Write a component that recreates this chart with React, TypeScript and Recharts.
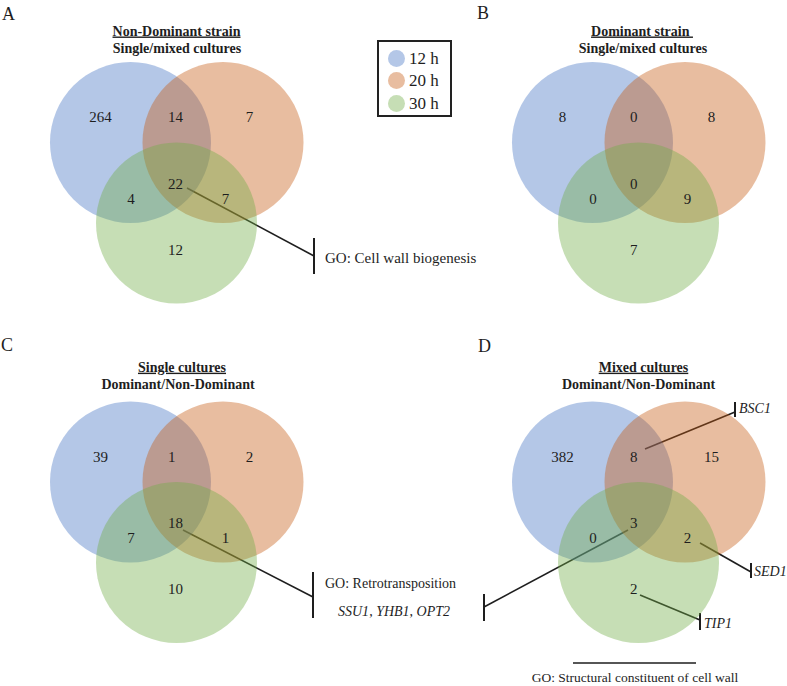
import React from "react";
import { ScatterChart, Scatter, XAxis, YAxis, ReferenceLine, Legend } from "recharts";

const W = 787;
const H = 686;
const SERIF = '"Liberation Serif", "Times New Roman", serif';
const INK = "#1e1e1e";

// time points (the three sets) and their colours
const timePoints = ["12 h", "20 h", "30 h"];
const timeColors = ["#4472C4", "#C55A11", "#70AD47"];

// panel headings
const panelLetters = ["A", "B", "C", "D"];
const panelTitles = ["Non-Dominant strain", "Dominant strain ", "Single cultures", "Mixed cultures"];
const panelSubtitles = [
  "Single/mixed cultures",
  "Single/mixed cultures",
  "Dominant/Non-Dominant",
  "Dominant/Non-Dominant",
];

// gene counts per region: [12 only, 12∩20, 20 only, 12∩30, 12∩20∩30, 20∩30, 30 only]
const nonDominantCounts = [264, 14, 7, 4, 22, 7, 12];
const dominantCounts = [8, 0, 8, 0, 0, 9, 7];
const singleCounts = [39, 1, 2, 7, 18, 1, 10];
const mixedCounts = [382, 8, 15, 0, 3, 2, 2];
const panelCounts = [nonDominantCounts, dominantCounts, singleCounts, mixedCounts];

// annotation texts
const goCellWall = "GO: Cell wall biogenesis";
const goRetro = "GO: Retrotransposition";
const retroGenes = ["SSU1", "YHB1", "OPT2"];
const goStructural = "GO: Structural constituent of cell wall";
const structuralGenes = ["BSC1", "SED1", "TIP1"];

// ---- layout (plot units == px, axes span the whole picture) ----
const R = 80.5;
const panelOrigin = [
  { x: 130.5, y: 142.5 },
  { x: 592.5, y: 142.5 },
  { x: 130.5, y: 482 },
  { x: 592.5, y: 482 },
];
const circleOffset = [
  { dx: 0, dy: 0 },
  { dx: 92.5, dy: 0 },
  { dx: 46, dy: 80.5 },
];
const regionLayout = [
  { dx: -30, dy: -20.5, anchor: "middle" },
  { dx: 37.5, dy: -20.5, anchor: "start" },
  { dx: 119, dy: -20.5, anchor: "middle" },
  { dx: 0.5, dy: 61, anchor: "middle" },
  { dx: 37.5, dy: 46, anchor: "start" },
  { dx: 95, dy: 61, anchor: "middle" },
  { dx: 37.5, dy: 112, anchor: "start" },
];
const headingLayout = [
  { letter: [2, 19.5], title: [176.5, 35.5], sub: [177, 53] },
  { letter: [477, 18.5], title: [642, 35.5], sub: [643, 53] },
  { letter: [1, 350.5], title: [182, 371.7], sub: [178, 389.3] },
  { letter: [478, 352], title: [643.5, 371.7], sub: [638.5, 389.3] },
];

const leaderLines = [
  // A
  { a: [187, 188], b: [314, 256], w: 1.6 },
  { a: [314, 238], b: [314, 274], w: 2 },
  // C
  { a: [183, 530], b: [313, 597], w: 1.6 },
  { a: [313, 572], b: [313, 618], w: 2 },
  // D
  { a: [645, 449], b: [735, 412], w: 1.6 },
  { a: [735, 402], b: [735, 417], w: 2 },
  { a: [700, 543], b: [751, 572], w: 1.6 },
  { a: [751, 563], b: [751, 578], w: 2 },
  { a: [640, 595], b: [700, 620], w: 1.6 },
  { a: [700, 613], b: [700, 630], w: 2 },
  { a: [628, 530], b: [484, 607], w: 1.6 },
  { a: [484, 594], b: [484, 621], w: 2 },
  { a: [573, 663], b: [696, 663], w: 1.6 },
];

type Part = { t: string; italic?: boolean };
type TextPoint = {
  x: number;
  y: number;
  parts: Part[];
  size: number;
  anchor?: string;
  bold?: boolean;
  underline?: boolean;
};

const geneParts = (genes: string[]): Part[] =>
  genes.flatMap((g, i) => (i === 0 ? [{ t: g, italic: true }] : [{ t: ", " }, { t: g, italic: true }]));

const circleData = circleOffset.map((off) =>
  panelOrigin.map((o) => ({ x: o.x + off.dx, y: o.y + off.dy, r: R }))
);

const countPoints: TextPoint[] = panelCounts.flatMap((counts, p) =>
  counts.map((v, k) => ({
    x: panelOrigin[p].x + regionLayout[k].dx,
    y: panelOrigin[p].y + regionLayout[k].dy,
    parts: [{ t: String(v) }],
    size: 15,
    anchor: regionLayout[k].anchor,
  }))
);

const headingPoints: TextPoint[] = panelLetters.flatMap((letter, p) => {
  const h = headingLayout[p];
  return [
    { x: h.letter[0], y: h.letter[1], parts: [{ t: letter }], size: 18, anchor: "start" },
    { x: h.title[0], y: h.title[1], parts: [{ t: panelTitles[p] }], size: 14, bold: true, underline: true },
    { x: h.sub[0], y: h.sub[1], parts: [{ t: panelSubtitles[p] }], size: 14, bold: true },
  ];
});

const notePoints: TextPoint[] = [
  { x: 325, y: 262.5, parts: [{ t: goCellWall }], size: 15, anchor: "start" },
  { x: 325, y: 588, parts: [{ t: goRetro }], size: 14, anchor: "start" },
  { x: 338, y: 616, parts: geneParts(retroGenes), size: 14, anchor: "start" },
  { x: 739, y: 413, parts: [{ t: structuralGenes[0], italic: true }], size: 14, anchor: "start" },
  { x: 754, y: 576, parts: [{ t: structuralGenes[1], italic: true }], size: 14, anchor: "start" },
  { x: 704, y: 628, parts: [{ t: structuralGenes[2], italic: true }], size: 14, anchor: "start" },
  { x: 635, y: 682, parts: [{ t: goStructural }], size: 13.5 },
];

const textPoints = [...countPoints, ...headingPoints, ...notePoints];

const TextMark = (props: any) => {
  const d: TextPoint = props.payload;
  return (
    <text
      x={props.cx}
      y={props.cy}
      textAnchor={d.anchor || "middle"}
      fontFamily={SERIF}
      fontSize={d.size}
      fontWeight={d.bold ? 700 : 400}
      fill={INK}
      xmlSpace="preserve"
      style={d.underline ? { textDecoration: "underline" } : undefined}
    >
      {d.parts.map((s, k) => (
        <tspan key={k} fontStyle={s.italic ? "italic" : "normal"}>
          {s.t}
        </tspan>
      ))}
    </text>
  );
};

const makeCircle = (i: number) => (props: any) => (
  <circle cx={props.cx} cy={props.cy} r={props.payload.r} fill={timeColors[i]} fillOpacity={0.4} />
);

const renderLegend = (props: any) => {
  const items = (props.payload || []).filter((e: any) => timePoints.includes(e.value));
  return (
    <div
      style={{
        boxSizing: "border-box",
        width: 75,
        height: 77,
        border: "2px solid #222",
        padding: "5px 0 0 8.5px",
        fontFamily: SERIF,
        fontSize: 17,
        color: INK,
        background: "#fff",
        textAlign: "left",
      }}
    >
      {items.map((e: any, i: number) => (
        <div key={e.value} style={{ display: "flex", alignItems: "center", height: 22.5 }}>
          <span
            style={{
              display: "inline-block",
              width: 17,
              height: 17,
              borderRadius: "50%",
              background: e.color || timeColors[i],
              opacity: 0.4,
              marginRight: 4.5,
            }}
          />
          <span style={{ lineHeight: 1 }}>{e.value}</span>
        </div>
      ))}
    </div>
  );
};

export default function App() {
  return (
    <div style={{ position: "absolute", left: 0, top: 0, background: "#fff" }}>
      <ScatterChart width={W} height={H} margin={{ top: 0, right: 0, bottom: 0, left: 0 }}>
        <XAxis type="number" dataKey="x" domain={[0, W]} allowDataOverflow hide />
        <YAxis type="number" dataKey="y" domain={[0, H]} allowDataOverflow reversed hide />
        {timePoints.map((name, i) => (
          <Scatter
            key={name}
            name={name}
            data={circleData[i]}
            fill={timeColors[i]}
            shape={makeCircle(i)}
            isAnimationActive={false}
          />
        ))}
        {leaderLines.map((l, i) => (
          <ReferenceLine
            key={i}
            segment={[
              { x: l.a[0], y: l.a[1] },
              { x: l.b[0], y: l.b[1] },
            ]}
            stroke={INK}
            strokeWidth={l.w}
            ifOverflow="visible"
          />
        ))}
        <Scatter
          name="labels"
          data={textPoints}
          legendType="none"
          shape={TextMark}
          isAnimationActive={false}
        />
        <Legend
          layout="horizontal"
          verticalAlign="middle"
          align="center"
          content={renderLegend}
          wrapperStyle={{ position: "absolute", left: 377, top: 40, width: 75, height: 77 }}
        />
      </ScatterChart>
    </div>
  );
}
